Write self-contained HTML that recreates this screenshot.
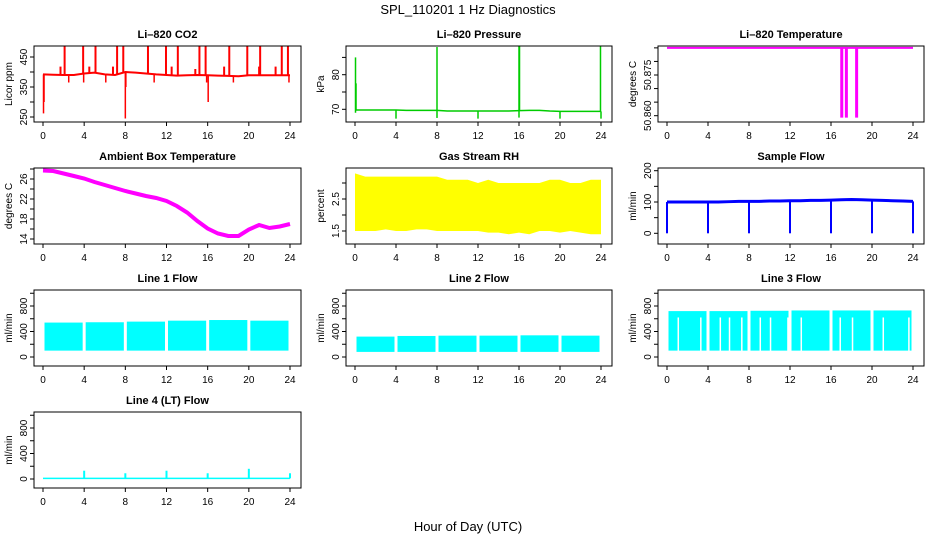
<!DOCTYPE html>
<html><head><meta charset="utf-8"><style>
body{margin:0;background:#fff}
svg{display:block;font-family:"Liberation Sans",sans-serif}
</style></head><body>
<svg id="c" width="936" height="540" xmlns="http://www.w3.org/2000/svg">
<text x="468" y="14" text-anchor="middle" font-size="13">SPL_110201  1 Hz Diagnostics</text>
<text x="468" y="531" text-anchor="middle" font-size="13">Hour of Day (UTC)</text>
</svg>
<script>
// ---- data ----
const hours = [0,1,2,3,4,5,6,7,8,9,10,11,12,13,14,15,16,17,18,19,20,21,22,23,24];
const xTicks = [0,4,8,12,16,20,24];
const co2Base = [392,391,390,390,395,398,392,390,400,398,395,392,390,388,389,390,389,388,387,386,389,389,389,389,389];
const co2SpikeHours = [2.1,3.9,5.1,7.2,7.8,10.2,11.95,13.1,15.2,15.8,18.1,19.85,21.1,23.2,23.8,1.7,4.5,6.8,12.5,14.8,17.6,21.0,22.6];
const co2SpikeVals = [485,485,485,485,485,485,487,485,485,485,485,487,485,485,485,418,418,418,418,410,418,418,418];
const co2DipHours = [0.05,0.1,3.95,8.0,8.05,15.9,16.05,23.9,2.5,6.1,10.8,18.5];
const co2DipVals = [262,300,365,245,350,365,300,365,365,365,365,365];
const presBase = [69.8,69.8,69.8,69.8,69.8,69.7,69.7,69.7,69.7,69.5,69.5,69.5,69.5,69.5,69.5,69.5,69.6,69.7,69.7,69.5,69.4,69.4,69.4,69.4,69.4];
const presSpikeHours = [0.05,0.1,8.0,16.0,16.05,23.95];
const presSpikeVals = [85,77.5,88,89,89,89.5];
const presDipHours = [0.05,4,8,12,16,20,24];
const presDipVals = [69,67.3,67.5,67.3,67.6,67.3,67.3];
const tempLevel = 50.885;
const tempDipHours = [17.05,17.5,18.5];
const tempDipVals = [50.8593,50.8593,50.8593];
const ambVals = [27.7,27.6,27.1,26.6,26.1,25.4,24.8,24.2,23.6,23.1,22.6,22.2,21.6,20.6,19.3,17.6,16.1,15.1,14.6,14.6,15.9,16.8,16.2,16.5,17.0];
const rhTop = [3.3,3.2,3.2,3.2,3.2,3.2,3.2,3.2,3.2,3.1,3.1,3.1,3.0,3.1,3.0,3.0,3.0,3.0,3.0,3.1,3.1,3.0,3.0,3.1,3.1];
const rhBottom = [1.5,1.5,1.5,1.55,1.5,1.5,1.55,1.55,1.5,1.5,1.5,1.5,1.5,1.45,1.45,1.4,1.45,1.4,1.5,1.5,1.45,1.5,1.45,1.4,1.4];
const sampleVals = [100,100,100,100,100,100,101,102,102,102,103,103,104,104,105,105,106,107,108,107,106,105,104,103,102];
const flowGapHours = [0,4,8,12,16,20,24];
const line1Top = [540,545,555,570,580,570,560];
const line1Bottom = [100,100,100,100,100,100,100];
const line2Top = [320,330,335,335,340,335,330];
const line2Bottom = [80,80,80,80,80,80,80];
const line3Top = [720,720,725,730,730,730,730];
const line3Bottom = [100,100,100,100,100,100,100];
const line3GapHours = [1.1,3.3,5.2,6.1,7.3,9.1,10.1,11.8,13.1,16.9,18.1,21.1,23.6];
const line4Level = 10;
const line4SpikeHours = [4,8,12,16,20,24];
const line4SpikeVals = [130,90,130,90,160,90];

// ---- layout ----
const NS="http://www.w3.org/2000/svg";
const svg=document.getElementById('c');
const cols=[{bl:34,br:301,x0:43,x1:290,lab:20,ttl:8},{bl:346,br:612,x0:355,x1:601,lab:332,ttl:320},{bl:658,br:924,x0:667,x1:913,lab:644,ttl:632}];
function el(t,a,p){const e=document.createElementNS(NS,t);for(const k in a)e.setAttribute(k,a[k]);(p||svg).appendChild(e);return e;}
function panel(name,title,col,row,ylab,yA,yB,ticks,labels,drawFn){
  const c=cols[col],top=46+122*row,bot=122+122*row;
  const g=el('g',{});
  
  
  const fx=h=>c.x0+(h/24)*(c.x1-c.x0);
  const fy=v=>yA[1]+(v-yA[0])*(yB[1]-yA[1])/(yB[0]-yA[0])+row*122;
  const clip='cl'+name;
  const cp=el('clipPath',{id:clip},g);el('rect',{x:c.bl,y:top,width:c.br-c.bl,height:bot-top},cp);
  const dg=el('g',{'clip-path':'url(#'+clip+')'},g);
  
  
  drawFn(dg,fx,fy);
  const t=el('text',{x:(c.bl+c.br)/2,y:top-8,'text-anchor':'middle','font-size':11,'font-weight':'bold'},g);t.textContent=title;
  
  
  el('rect',{x:c.bl,y:top,width:c.br-c.bl,height:bot-top,fill:'none',stroke:'#000'},g);
  el('line',{x1:fx(0),x2:fx(24),y1:bot,y2:bot,stroke:'#000'},g);
  xTicks.forEach(h=>{el('line',{x1:fx(h),x2:fx(h),y1:bot,y2:bot+4,stroke:'#000'},g);
    const tx=el('text',{x:fx(h),y:bot+17,'text-anchor':'middle','font-size':10},g);tx.textContent=h;
    
    });
  el('line',{x1:c.bl,x2:c.bl,y1:fy(ticks[0]),y2:fy(ticks[ticks.length-1]),stroke:'#000'},g);
  ticks.forEach(v=>el('line',{x1:c.bl-4,x2:c.bl,y1:fy(v),y2:fy(v),stroke:'#000'},g));
  labels.forEach(v=>{const ty=el('text',{x:0,y:0,'text-anchor':'middle','font-size':10,transform:`translate(${c.bl-7},${fy(v)}) rotate(-90)`},g);ty.textContent=v;
    
    });
  const yl=el('text',{x:0,y:0,'text-anchor':'middle','font-size':10,transform:`translate(${c.ttl+4},${(top+bot)/2}) rotate(-90)`},g);yl.textContent=ylab;
  
  
}
const pl=(g,pts,col,w)=>el('polyline',{points:pts.map(p=>p.join(',')).join(' '),fill:'none',stroke:col,'stroke-width':w},g);
const vl=(g,x,y1,y2,col,w)=>el('line',{x1:x,x2:x,y1:y1,y2:y2,stroke:col,'stroke-width':w},g);
const interp=(arr,h)=>{const i=Math.min(23,Math.floor(h));const f=h-i;return arr[i]*(1-f)+arr[i+1]*f;};

panel('co2','Li\u2013820 CO2',0,0,'Licor ppm',[250,117],[450,57],[250,300,350,400,450],['250','350','450'],(g,fx,fy)=>{
  pl(g,hours.map((h,i)=>[fx(h),fy(co2Base[i])]),'#f00',2);
  co2SpikeHours.forEach((h,i)=>vl(g,fx(h),fy(interp(co2Base,h)),fy(co2SpikeVals[i]),'#f00',2));
  co2DipHours.forEach((h,i)=>vl(g,fx(h),fy(interp(co2Base,h)),fy(co2DipVals[i]),'#f00',1.5));
});
panel('pressure','Li\u2013820 Pressure',1,0,'kPa',[70,109.3],[80,74.7],[70,75,80,85],['70','80'],(g,fx,fy)=>{
  pl(g,hours.map((h,i)=>[fx(h),fy(presBase[i])]),'#0c0',1.5);
  presSpikeHours.forEach((h,i)=>vl(g,fx(h),fy(interp(presBase,h)),fy(presSpikeVals[i]),'#0c0',1.5));
  presDipHours.forEach((h,i)=>vl(g,fx(h),fy(interp(presBase,h)),fy(presDipVals[i]),'#0c0',1.5));
});
panel('licor-temp','Li\u2013820 Temperature',2,0,'degrees C',[50.860,115.7],[50.875,75],[50.860,50.865,50.870,50.875,50.880,50.885],['50.860','50.875'],(g,fx,fy)=>{
  el('line',{x1:fx(0),x2:fx(24),y1:fy(tempLevel),y2:fy(tempLevel),stroke:'#f0f','stroke-width':2},g);
  tempDipHours.forEach((h,i)=>vl(g,fx(h),fy(tempLevel),fy(tempDipVals[i]),'#f0f',3));
});
panel('ambient','Ambient Box Temperature',0,1,'degrees C',[14,239-122],[26,179-122],[14,16,18,20,22,24,26,28],['14','18','22','26'],(g,fx,fy)=>{
  pl(g,hours.map((h,i)=>[fx(h),fy(ambVals[i])]),'#f0f',4);
});
panel('rh','Gas Stream RH',1,1,'percent',[1.5,231-122],[2.5,199-122],[1.5,2,2.5,3],['1.5','2.5'],(g,fx,fy)=>{
  const pts=hours.map((h,i)=>fx(h)+','+fy(rhTop[i])).concat(hours.slice().reverse().map((h,j)=>fx(h)+','+fy(rhBottom[24-j])));
  el('polygon',{points:pts.join(' '),fill:'#ff0'},g);
});
panel('sample-flow','Sample Flow',2,1,'ml/min',[0,233.3-122],[100,202-122],[0,50,100,150,200],['0','100','200'],(g,fx,fy)=>{
  pl(g,hours.map((h,i)=>[fx(h),fy(sampleVals[i])]),'#00f',3);
  flowGapHours.forEach(h=>vl(g,fx(h),fy(interp(sampleVals,h)),fy(0),'#00f',2));
});
function bandPanel(name,title,col,row,tops,bots,gaps){
  panel(name,title,col,row,'ml/min',[0,357-244],[800,306-244],[0,200,400,600,800,1000],['0','400','800'],(g,fx,fy)=>{
    for(let i=0;i<6;i++){const x1=fx(flowGapHours[i])+1.5,x2=fx(flowGapHours[i+1])-1.5;
      el('rect',{x:x1,y:fy(tops[i]),width:x2-x1,height:fy(bots[i])-fy(tops[i]),fill:'#0ff'},g);}
    if(gaps)gaps.forEach(h=>vl(g,fx(h),fy(620),fy(90),'#fff',1.5));
  });
}
bandPanel('line1-flow','Line 1 Flow',0,2,line1Top,line1Bottom);
bandPanel('line2-flow','Line 2 Flow',1,2,line2Top,line2Bottom);
bandPanel('line3-flow','Line 3 Flow',2,2,line3Top,line3Bottom,line3GapHours);
panel('line4-flow','Line 4 (LT) Flow',0,3,'ml/min',[0,357-244],[800,306-244],[0,200,400,600,800,1000],['0','400','800'],(g,fx,fy)=>{
  el('line',{x1:fx(0),x2:fx(24),y1:fy(line4Level),y2:fy(line4Level),stroke:'#0ff','stroke-width':1.5},g);
  line4SpikeHours.forEach((h,i)=>vl(g,fx(h),fy(line4Level),fy(line4SpikeVals[i]),'#0ff',2));
});
</script>
</body></html>
